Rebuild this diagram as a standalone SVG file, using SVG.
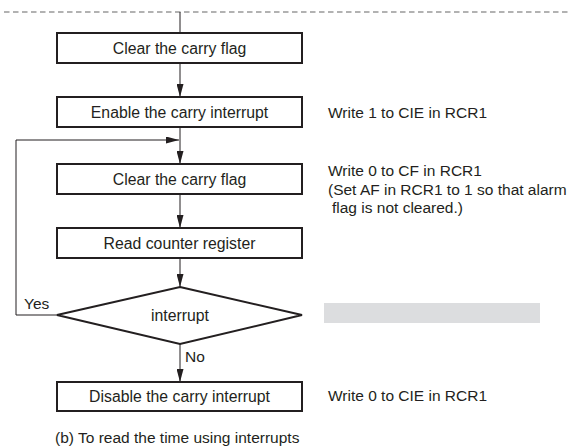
<svg xmlns="http://www.w3.org/2000/svg" width="570" height="447" viewBox="0 0 570 447">
<defs>
<marker id="ah" markerWidth="13" markerHeight="7" refX="13" refY="3.5" viewBox="0 0 13 7" markerUnits="userSpaceOnUse" orient="auto">
<path d="M0,0 L13,3.5 L0,7 Z" fill="#231f20"/>
</marker>
<style>
.box{fill:#fff;stroke:#231f20;stroke-width:2}
.ln{fill:none;stroke:#231f20;stroke-width:1}
.t{font-family:"Liberation Sans",Arial,sans-serif;font-size:15.5px;fill:#231f20}
.b{font-size:15.8px}
.c{text-anchor:middle}
</style>
</defs>
<rect width="570" height="447" fill="#fff"/>
<line x1="4" y1="12" x2="570" y2="12" stroke="#666" stroke-width="1.2" stroke-dasharray="5.5 3.5"/>
<g id="connectors">
<line class="ln" x1="180" y1="12" x2="180" y2="33"/>
<line class="ln" x1="180" y1="63" x2="180" y2="97" marker-end="url(#ah)"/>
<line class="ln" x1="180" y1="127" x2="180" y2="164" marker-end="url(#ah)"/>
<polyline class="ln" points="57,315 16,315 16,140 179,140" marker-end="url(#ah)"/>
<line class="ln" x1="180" y1="194" x2="180" y2="228" marker-end="url(#ah)"/>
<line class="ln" x1="180" y1="258" x2="180" y2="287" marker-end="url(#ah)"/>
<line class="ln" x1="180" y1="344" x2="180" y2="382" marker-end="url(#ah)"/>
<text class="t" x="24" y="309">Yes</text>
<text class="t" x="185" y="362">No</text>
</g>
<g id="n1"><rect class="box" x="57" y="33" width="245" height="30"/><text class="t b c" x="179.5" y="53.5">Clear the carry flag</text></g>
<g id="n2"><rect class="box" x="57" y="97" width="245" height="30"/><text class="t b c" x="179.5" y="117.5">Enable the carry interrupt</text></g>
<g id="n3"><rect class="box" x="57" y="164" width="245" height="30"/><text class="t b c" x="179.5" y="184.5">Clear the carry flag</text></g>
<g id="n4"><rect class="box" x="57" y="228" width="245" height="30"/><text class="t b c" x="179.5" y="248.5">Read counter register</text></g>
<g id="n5"><polygon class="box" points="180,287 302,315 180,344 57,315"/><text class="t b c" x="180" y="321">interrupt</text></g>
<g id="n6"><rect class="box" x="57" y="382" width="245" height="29"/><text class="t b c" x="179.5" y="402">Disable the carry interrupt</text></g>
<g id="notes">
<text class="t" x="328" y="118">Write 1 to CIE in RCR1</text>
<text class="t" x="328" y="176">Write 0 to CF in RCR1</text>
<text class="t" x="328" y="195">(Set AF in RCR1 to 1 so that alarm</text>
<text class="t" x="332" y="213">flag is not cleared.)</text>
<rect x="324" y="303" width="216" height="20" fill="#dcdddf"/>
<text class="t" x="328" y="401">Write 0 to CIE in RCR1</text>
</g>
<text class="t" x="55" y="443">(b) To read the time using interrupts</text>
</svg>
